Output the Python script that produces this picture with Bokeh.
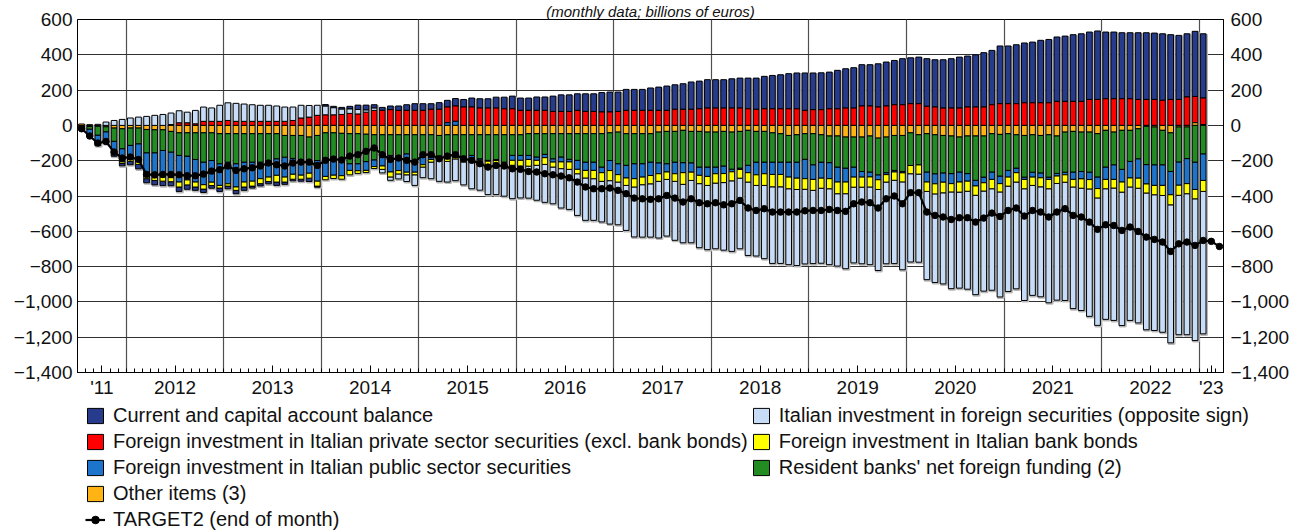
import numpy as np
from bokeh.plotting import figure
from bokeh.layouts import column
from bokeh.models import (Range1d, LinearAxis, FixedTicker, Legend, LegendItem,
                          ColumnDataSource, Title)
from bokeh.embed import file_html
from bokeh.resources import INLINE

# ---------------- data (billions of euros, cumulated since July 2011) ----------------
months = [f"{2011 + (6 + k) // 12}-{(6 + k) % 12 + 1:02d}" for k in range(141)]  # 2011-07 .. 2023-03
n_bars = 139  # bars: 2011-07 .. 2023-01

year_labels = ["'11", "2012", "2013", "2014", "2015", "2016", "2017", "2018",
               "2019", "2020", "2021", "2022", "'23"]

current_account = [-5, -10, -26, -19, -25, -13, -19, -25, -23, -25,
                   -25, -23, -25, -25, -19, -19, -15, -19, -15, -19,
                   -19, -11, -13, -13, -19, -13, -9, -11, -19, -6,
                   9, 8, 10, 15, 25, 28, 19, 17, 21, 25,
                   32, 38, 38, 32, 38, 38, 42, 43, 51, 53,
                   53, 62, 66, 72, 70, 70, 76, 76, 87, 94,
                   94, 94, 100, 100, 110, 113, 110, 119, 119, 119,
                   127, 132, 138, 139, 145, 155, 157, 161, 161, 161,
                   166, 170, 174, 177, 184, 189, 193, 199, 203, 212,
                   208, 209, 208, 218, 223, 229, 234, 234, 245, 249,
                   251, 261, 260, 264, 270, 268, 274, 280, 289, 289,
                   296, 308, 308, 327, 327, 334, 339, 344, 354, 359,
                   365, 370, 378, 383, 382, 388, 378, 378, 374, 374,
                   378, 378, 376, 377, 367, 363, 358, 369, 364]

private_securities = [-3, 0, 0, 0, 0, 0, 0, 0, 0, 0,
                      0, 5, 15, 15, 9, 23, 23, 23, 28, 23,
                      23, 23, 23, 23, 23, 23, 28, 42, 47, 57,
                      60, 60, 62, 68, 65, 75, 85, 85, 89, 85,
                      85, 85, 85, 91, 91, 89, 87, 104, 104, 98,
                      98, 98, 94, 94, 85, 85, 85, 85, 79, 79,
                      79, 85, 79, 79, 76, 76, 79, 85, 85, 85,
                      85, 85, 85, 91, 91, 91, 94, 98, 98, 98,
                      98, 98, 94, 91, 94, 94, 94, 94, 94, 85,
                      89, 89, 94, 94, 98, 98, 110, 110, 104, 110,
                      117, 117, 123, 123, 108, 104, 98, 98, 98, 104,
                      104, 104, 117, 123, 123, 123, 128, 128, 128, 128,
                      136, 136, 136, 136, 147, 147, 151, 151, 151, 151,
                      147, 147, 147, 142, 147, 147, 161, 149, 150]

public_securities = [-6, -25, -34, -47, -60, -75, -76, -100, -132, -142,
                     -151, -145, -151, -135, -128, -128, -123, -123, -123, -132,
                     -113, -108, -94, -76, -94, -113, -90, -85, -75, -117,
                     -100, -95, -90, -38, -40, -50, -38, -60, -94, -76,
                     -104, -57, -53, -13, -10, 15, 23, -10, -19, -8,
                     -5, -6, -4, -28, -28, -23, -19, -19, -19, -28,
                     -15, -51, -47, -47, -32, -57, -62, -72, -85, -76,
                     -76, -62, -47, -66, -57, -53, -47, -53, -38, -43,
                     -15, -8, -42, -72, -66, -70, -70, -85, -91, -110,
                     -83, -91, -91, -85, -79, -57, -32, -28, -28, -11,
                     -9, -8, 0, 0, -57, -57, -53, -57, -57, -43,
                     -32, -32, -42, -43, -38, -26, -13, -28, -28, -13,
                     -15, -15, -42, -42, -42, -66, -70, -83, -72, -94,
                     -110, -110, -117, -117, -132, -132, -142, -155, -151]

other_items = [8, -6, -5, -8, -15, -19, -15, -15, -23, -25,
               -25, -34, -42, -42, -42, -42, -42, -47, -47, -47,
               -47, -47, -47, -47, -47, -57, -57, -57, -66, -57,
               -42, -42, -45, -47, -47, -50, -53, -53, -53, -53,
               -53, -53, -53, -53, -57, -53, -53, -53, -53, -53,
               -53, -53, -53, -53, -53, -47, -47, -47, -47, -47,
               -47, -47, -47, -47, -47, -42, -38, -47, -47, -47,
               -47, -38, -34, -34, -28, -34, -34, -38, -38, -34,
               -38, -34, -28, -34, -34, -42, -47, -57, -53, -47,
               -47, -53, -60, -60, -66, -66, -66, -60, -72, -66,
               -57, -57, -42, -53, -47, -53, -57, -60, -66, -60,
               -60, -60, -47, -51, -47, -53, -57, -53, -57, -53,
               -60, -38, -34, -38, -38, -47, -28, -38, -28, -28,
               -19, -5, -9, -28, -42, -9, -9, 15, 5]

foreign_securities = [0, 4, 6, 19, 28, 34, 42, 47, 51, 57,
                      62, 65, 68, 60, 76, 81, 76, 91, 100, 102,
                      98, 94, 91, 91, 87, 81, 76, 72, 66, 57,
                      49, 40, 30, 25, 25, 12, 13, -20, -19, -28,
                      -38, -60, -60, -94, -123, -117, -123, -130, -151, -157,
                      -170, -170, -166, -189, -181, -181, -198, -215, -208, -223,
                      -227, -236, -240, -236, -230, -246, -242, -255, -283, -297,
                      -302, -321, -321, -334, -331, -353, -363, -364, -372, -383,
                      -400, -400, -416, -400, -415, -434, -434, -430, -431, -423,
                      -415, -425, -430, -410, -425, -429, -434, -440, -459, -463,
                      -472, -498, -500, -499, -500, -502, -516, -548, -544, -555,
                      -563, -567, -575, -595, -597, -605, -633, -623, -623, -646,
                      -661, -670, -689, -693, -722, -722, -740, -750, -756, -756,
                      -763, -775, -769, -775, -782, -790, -799, -803, -807]

bank_bonds = [0, 0, 0, 0, 0, -9, -15, -17, -15, -15,
              -23, -23, -28, -28, -28, -25, -19, -15, -13, -19,
              -28, -28, -28, -25, -38, -28, -28, -23, -28, -28,
              -19, -19, -20, -25, -15, -12, -11, -19, -28, -19,
              -15, -15, -13, -15, -10, -15, -10, -8, -19, -13,
              -19, -23, -23, -28, -32, -38, -28, -38, -28, -38,
              -42, -25, -43, -47, -49, -57, -42, -42, -47, -43,
              -47, -43, -42, -43, -66, -47, -47, -51, -53, -51,
              -51, -49, -53, -60, -66, -70, -70, -66, -64, -60,
              -62, -57, -57, -66, -66, -57, -57, -57, -55, -42,
              -47, -51, -47, -53, -53, -57, -60, -47, -57, -57,
              -53, -47, -53, -47, -51, -53, -53, -47, -51, -53,
              -42, -42, -43, -53, -53, -53, -53, -49, -57, -51,
              -57, -51, -53, -57, -57, -57, -57, -53, -62]

banks_funding = [-8, -15, -50, -28, -75, -113, -98, -89, -132, -130,
                 -117, -117, -128, -132, -151, -166, -157, -170, -161, -170,
                 -161, -161, -161, -170, -142, -123, -130, -140, -130, -142,
                 -147, -145, -150, -170, -170, -155, -142, -117, -117, -127,
                 -108, -155, -117, -127, -117, -136, -127, -136, -117, -136,
                 -145, -140, -155, -117, -117, -123, -132, -117, -142, -132,
                 -145, -151, -161, -161, -189, -157, -179, -179, -170, -170,
                 -161, -174, -183, -174, -183, -178, -202, -198, -198, -196,
                 -210, -208, -198, -174, -174, -166, -161, -151, -155, -145,
                 -176, -155, -151, -176, -176, -170, -195, -204, -208, -202,
                 -198, -204, -185, -170, -217, -221, -212, -213, -198, -213,
                 -251, -233, -217, -236, -208, -189, -236, -212, -212, -240,
                 -212, -227, -230, -223, -227, -245, -208, -185, -221, -176,
                 -170, -217, -214, -195, -219, -198, -179, -208, -161]

target2 = [-19, -60, -100, -91, -151, -185, -179, -193, -278, -280,
           -278, -278, -280, -285, -285, -276, -259, -251, -230, -255,
           -246, -240, -230, -213, -223, -230, -213, -208, -208, -227,
           -198, -191, -196, -174, -166, -147, -128, -166, -193, -185,
           -198, -208, -166, -166, -189, -174, -166, -189, -198, -217,
           -236, -227, -230, -246, -249, -261, -264, -274, -280, -287,
           -297, -321, -349, -359, -359, -355, -368, -387, -412, -416,
           -419, -416, -397, -412, -434, -416, -438, -444, -438, -450,
           -444, -425, -468, -482, -472, -491, -491, -491, -491, -484,
           -482, -482, -476, -482, -487, -444, -434, -438, -468, -416,
           -400, -444, -381, -381, -491, -510, -519, -533, -523, -523,
           -548, -525, -497, -516, -482, -468, -514, -482, -491, -519,
           -491, -472, -510, -519, -548, -589, -563, -567, -595, -576,
           -601, -633, -646, -661, -714, -671, -661, -680, -652, -657,
           -686]

# ---------------- styling ----------------
FONT = "Liberation Sans"
colors = {
    "current": "#263B8C",
    "private": "#FF0000",
    "public": "#1C74CC",
    "other": "#FFB414",
    "foreign": "#C7DDF7",
    "bankbonds": "#FFFF00",
    "banks": "#228B22",
}
series = {
    "current": current_account,
    "private": private_securities,
    "public": public_securities,
    "other": other_items,
    "foreign": foreign_securities,
    "bankbonds": bank_bonds,
    "banks": banks_funding,
}
labels = {
    "current": "Current and capital account balance",
    "private": "Foreign investment in Italian private sector securities (excl. bank bonds)",
    "public": "Foreign investment in Italian public sector securities",
    "other": "Other items (3)",
    "foreign": "Italian investment in foreign securities (opposite sign)",
    "bankbonds": "Foreign investment in Italian bank bonds",
    "banks": "Resident banks' net foreign funding (2)",
}
pos_order = ["public", "other", "private", "banks", "bankbonds", "foreign", "current"]
neg_order = ["other", "private", "banks", "public", "bankbonds", "foreign", "current"]

x_idx = np.arange(n_bars, dtype=float)
segs = {k: {"x": [], "top": [], "bottom": []} for k in series}
pos_cum = np.zeros(n_bars)
for k in pos_order:
    v = np.clip(np.array(series[k], float), 0, None)
    for i in range(n_bars):
        if v[i] > 0:
            segs[k]["x"].append(x_idx[i])
            segs[k]["bottom"].append(pos_cum[i])
            segs[k]["top"].append(pos_cum[i] + v[i])
    pos_cum += v
neg_cum = np.zeros(n_bars)
for k in neg_order:
    v = np.clip(np.array(series[k], float), None, 0)
    for i in range(n_bars):
        if v[i] < 0:
            segs[k]["x"].append(x_idx[i])
            segs[k]["top"].append(neg_cum[i])
            segs[k]["bottom"].append(neg_cum[i] + v[i])
    neg_cum += v

# ---------------- main figure ----------------
W = 1292
H_MAIN = 400

p = figure(width=W, height=H_MAIN, output_backend="svg", toolbar_location=None,
           x_range=Range1d(-0.5, len(months) - 0.5), y_range=Range1d(-1400, 600),
           min_border_left=77, min_border_right=66,
           min_border_top=19, min_border_bottom=28)
p.frame_align = False
p.outline_line_color = "black"
p.outline_line_width = 1
p.background_fill_color = "white"
p.border_fill_color = "white"

p.add_layout(Title(text="(monthly data; billions of euros)", align="center",
                   text_font=FONT, text_font_size="15px", text_font_style="italic",
                   text_color="#111111", standoff=0, offset=0), "above")

yticks = list(range(-1400, 601, 200))
ylabels = {v: f"{v:,}".replace("-", "\u2212") for v in yticks}

def style_y(ax):
    ax.ticker = FixedTicker(ticks=yticks)
    ax.major_label_overrides = ylabels
    ax.major_label_text_font = FONT
    ax.major_label_text_font_size = "19px"
    ax.major_label_text_color = "#111111"
    ax.major_tick_out = 0
    ax.major_tick_in = 0
    ax.minor_tick_out = 0
    ax.minor_tick_in = 0
    ax.axis_line_color = "black"
    ax.major_label_standoff = 5

style_y(p.yaxis[0])
right_axis = LinearAxis()
style_y(right_axis)
right_axis.major_label_standoff = 7
p.add_layout(right_axis, "right")

# x axis: labels at the middle of each year, month ticks, gridlines at year ends
first_year_start = 5.5  # boundary Dec 2011 / Jan 2012
year_bounds = [first_year_start + 12 * k for k in range(12)]
label_pos = [(-0.5 + first_year_start) / 2] + [b + 6 for b in year_bounds[:-1]] + \
            [(year_bounds[-1] + len(months) - 0.5) / 2]
month_bounds = [k - 0.5 for k in range(len(months) + 1)]
xa = p.xaxis[0]
xa.ticker = FixedTicker(ticks=label_pos, minor_ticks=month_bounds)
xa.major_label_overrides = {pos: lab for pos, lab in zip(label_pos, year_labels)}
xa.major_label_text_font = FONT
xa.major_label_text_font_size = "19px"
xa.major_label_text_color = "#111111"
xa.major_tick_in = 7
xa.major_tick_out = 0
xa.minor_tick_in = 4
xa.minor_tick_out = 0
xa.major_label_standoff = 4
xa.axis_line_color = "black"

p.xgrid.ticker = FixedTicker(ticks=year_bounds)
p.xgrid.grid_line_color = "#505050"
p.xgrid.grid_line_width = 1.2
p.ygrid.ticker = FixedTicker(ticks=yticks)
p.ygrid.grid_line_color = "#303030"
p.ygrid.grid_line_width = 1

# bar shadows
p.vbar(x=x_idx + 0.1, top=pos_cum - 6, bottom=neg_cum - 6, width=0.74,
       fill_color="#b8b8b8", line_color="#b8b8b8", line_width=2, fill_alpha=0.9)

for k in ["current", "private", "public", "other", "foreign", "bankbonds", "banks"]:
    src = ColumnDataSource(segs[k])
    p.vbar(x="x", top="top", bottom="bottom", width=0.7, source=src,
           fill_color=colors[k], line_color="black", line_width=1)

t_x = np.arange(len(target2), dtype=float)
p.line(t_x, target2, line_color="black", line_width=2.2)
p.scatter(t_x, target2, size=6.5, marker="circle", fill_color="black", line_color="black")

# ---------------- legend figure ----------------
H_LEG = 131
lf = figure(width=W, height=H_LEG, output_backend="svg", toolbar_location=None,
            x_range=Range1d(0, 1), y_range=Range1d(0, 1),
            x_axis_type=None, y_axis_type=None, min_border=0)
lf.frame_align = False
lf.outline_line_color = None
lf.grid.visible = False
lf.background_fill_color = "white"
lf.border_fill_color = "white"

# legend-only glyphs, placed outside the visible range
off = dict(x=[5.0], top=[5.0], bottom=[6.0])
leg_r = {}
for k in ["current", "private", "public", "other", "foreign", "bankbonds", "banks"]:
    leg_r[k] = lf.vbar(x="x", top="top", bottom="bottom", width=0.7,
                       source=ColumnDataSource(dict(off)),
                       fill_color=colors[k], line_color="black", line_width=1)
leg_line = lf.line(x=[5.0, 6.0], y=[5.0, 5.0], line_color="black", line_width=2.2)
leg_dot = lf.scatter(x=[5.0], y=[5.0], size=6.5, marker="circle", fill_color="black",
                     line_color="black")

items = [LegendItem(label=labels[k], renderers=[leg_r[k]])
         for k in ["current", "private", "public", "other"]]
items.append(LegendItem(label="TARGET2 (end of month)", renderers=[leg_line, leg_dot]))
items += [LegendItem(label=labels[k], renderers=[leg_r[k]])
          for k in ["foreign", "bankbonds", "banks"]]

LEG_PAD, ROW_GAP = 4, 3
legend = Legend(items=items, nrows=5, orientation="vertical",
                location=(85, 0),
                label_text_font=FONT, label_text_font_size="20px",
                label_text_color="#111111",
                glyph_width=20, glyph_height=19, label_height=19, label_standoff=8,
                spacing=ROW_GAP, padding=LEG_PAD, margin=0, border_line_color=None,
                background_fill_color=None)
lf.add_layout(legend, "center")

layout = column(p, lf, spacing=0)
open("out.html", "w").write(file_html(layout, INLINE))
